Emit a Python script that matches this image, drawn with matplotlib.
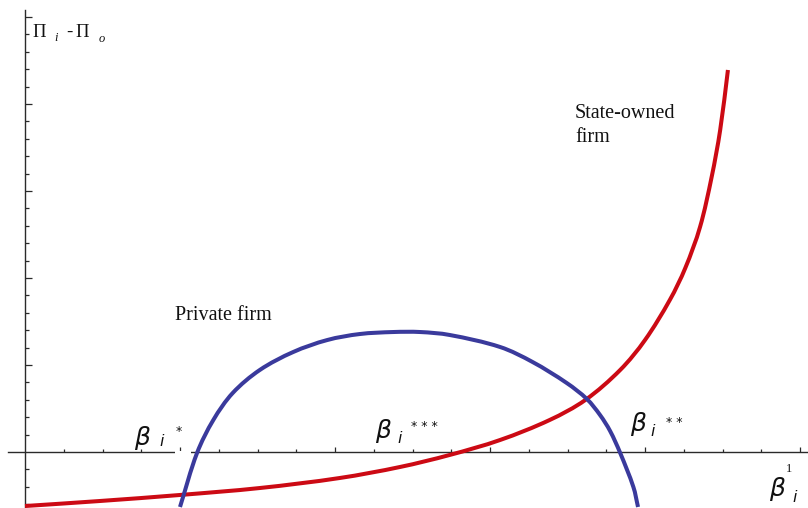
import matplotlib
matplotlib.use("Agg")
import matplotlib.pyplot as plt
from matplotlib.patches import Rectangle, PathPatch
from matplotlib.path import Path
import numpy as np

# ---------------- data ----------------
state_x = [0.000, 0.097, 0.200, 0.303, 0.406, 0.484, 0.548, 0.613, 0.677, 0.723,
           0.768, 0.800, 0.832, 0.852, 0.871, 0.886, 0.897, 0.907]
state_y = [-0.621, -0.563, -0.494, -0.414, -0.299, -0.172, -0.034, 0.138, 0.368, 0.598,
           0.943, 1.287, 1.747, 2.115, 2.586, 3.161, 3.701, 4.391]

private_x = [0.200, 0.222, 0.243, 0.268, 0.303, 0.346, 0.390, 0.432, 0.475, 0.510,
             0.548, 0.613, 0.655, 0.699, 0.725, 0.742, 0.755, 0.768, 0.785, 0.791]
private_y = [-0.632, -0.011, 0.368, 0.678, 0.943, 1.149, 1.287, 1.356, 1.379, 1.379,
             1.345, 1.207, 1.034, 0.793, 0.609, 0.425, 0.241, -0.011, -0.402, -0.632]

x_major = [0.2, 0.4, 0.6, 0.8, 1.0]
x_minor = [round(v, 2) for v in np.arange(0.05, 1.0, 0.05) if round(v, 2) not in (0.2, 0.4, 0.6, 0.8)]
y_major = [1, 2, 3, 4, 5]
y_minor = [round(v, 1) for v in np.arange(-0.6, 5.0, 0.2) if abs(v - round(v)) > 1e-6]

# ---------------- figure ----------------
W, H = 808, 508
fig = plt.figure(figsize=(W / 100, H / 100), dpi=100)
ax = fig.add_axes([0, 0, 1, 1])
ax.set_facecolor("white")

ax.set_xlim(-25 / 775, (W - 25) / 775)
ax.set_ylim(-(H - 452) / 87, 452 / 87)

for s in ("top", "right"):
    ax.spines[s].set_visible(False)
ax.spines["left"].set_position(("data", 0))
ax.spines["bottom"].set_position(("data", 0))
ax.spines["left"].set_bounds(-(H - 452) / 87, (452 - 10) / 87)
ax.spines["bottom"].set_bounds(-17 / 775, (W - 25) / 775)
for s in ("left", "bottom"):
    ax.spines[s].set_color("#2a2a2a")
    ax.spines[s].set_linewidth(1.0)

ax.set_xticks(x_major)
ax.set_xticks(x_minor, minor=True)
ax.set_yticks(y_major)
ax.set_yticks(y_minor, minor=True)
ax.tick_params(axis="x", which="major", direction="in", length=3.8, width=0.9, color="#2a2a2a",
               labelbottom=False)
ax.tick_params(axis="x", which="minor", direction="in", length=2.0, width=0.9, color="#2a2a2a")
ax.tick_params(axis="y", which="major", direction="in", length=4.8, width=0.9, color="#2a2a2a",
               labelleft=False)
ax.tick_params(axis="y", which="minor", direction="in", length=2.6, width=0.9, color="#2a2a2a")

# small break in the axis under the first label
ax.add_patch(Rectangle((150 / 775, -0.035), 16 / 775, 0.05, facecolor="white",
                       edgecolor="none", zorder=2.7))

SX, SY = 775.0, 87.0  # data units -> pixels, used only for chord-length parametrisation


def smooth_curve(xs, ys, color):
    """Smooth cubic Hermite (Bezier) curve through the read points."""
    P = np.column_stack([np.asarray(xs) * SX, np.asarray(ys) * SY])
    n = len(P)
    d = np.hypot(*np.diff(P, axis=0).T)
    t = np.concatenate([[0], np.cumsum(d)])
    m = np.zeros_like(P)
    m[0] = (P[1] - P[0]) / (t[1] - t[0])
    m[-1] = (P[-1] - P[-2]) / (t[-1] - t[-2])
    for i in range(1, n - 1):
        m[i] = (P[i + 1] - P[i - 1]) / (t[i + 1] - t[i - 1])
    verts = [P[0]]
    codes = [Path.MOVETO]
    for i in range(n - 1):
        h = t[i + 1] - t[i]
        verts += [P[i] + m[i] * h / 3, P[i + 1] - m[i + 1] * h / 3, P[i + 1]]
        codes += [Path.CURVE4] * 3
    V = np.array(verts) / np.array([SX, SY])
    patch = PathPatch(Path(V, codes), facecolor="none", edgecolor=color, lw=2.9,
                      capstyle="butt", joinstyle="round", zorder=3)
    ax.add_patch(patch)


smooth_curve(state_x, state_y, "#cc0a14")
smooth_curve(private_x, private_y, "#3a3a9c")


def ptext(px, py, s, **kw):
    fig.text(px / W, 1 - py / H, s, va="baseline", ha="left", **kw)


SERIF = "Liberation Serif"
SANS = "DejaVu Sans"
TXT = "#111111"

# y-axis title
ptext(32, 37, "Π", family=SERIF, fontsize=13.5, color=TXT)
ptext(54, 41, "i", family=SERIF, style="italic", fontsize=9, color=TXT)
ptext(66, 37, "-", family=SERIF, fontsize=13.5, color=TXT)
ptext(75, 37, "Π", family=SERIF, fontsize=13.5, color=TXT)
ptext(99, 42, "o", family=SERIF, style="italic", fontsize=9, color=TXT)

# curve labels
ptext(575, 118, "State-owned", family=SERIF, fontsize=14.5, color=TXT)
ptext(575, 142, "firm", family=SERIF, fontsize=14.5, color=TXT)
ptext(175, 320, "Private firm", family=SERIF, fontsize=14.5, color=TXT)


# beta labels
def beta_label(bx, by_top, ix, iy, sx, s_top, stars):
    ptext(bx, by_top + 18, "β", family=SANS, style="italic", fontsize=18, color=TXT)
    ptext(ix, iy, "i", family=SANS, style="italic", fontsize=11.5, color=TXT)
    if stars:
        ptext(sx, s_top + 9.5, stars, family=SANS, fontsize=9, color=TXT)


beta_label(134, 427, 159, 446, 176, 425, "*")
beta_label(375, 420, 397, 443, 411, 421, "* * *")
beta_label(630, 413, 650, 436, 666, 416, "* *")
beta_label(769, 478, 792, 502, 0, 0, "")
ptext(786, 472, "1", family=SERIF, fontsize=9, color=TXT)

fig.savefig("out.png", dpi=100, facecolor="white")
